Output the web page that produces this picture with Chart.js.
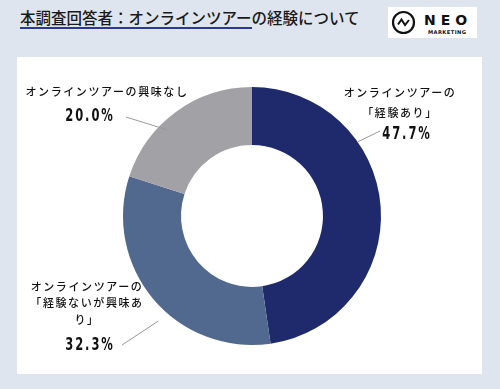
<!DOCTYPE html>
<html lang="ja">
<head>
    <meta charset="UTF-8">
    <title>本調査回答者：オンラインツアーの経験について</title>
    <style>
        body {
            margin: 0;
            width: 500px;
            height: 389px;
            background-color: #dfe5ee;
            font-family: "Noto Sans CJK JP", sans-serif;
            position: relative;
            overflow: hidden;
        }

        #title {
            position: absolute;
            left: 20px;
            top: 6px;
            font-size: 15.5px;
            font-weight: 500;
            color: #1a1a1a;
            white-space: nowrap;
        }

        #title-line {
            position: absolute;
            left: 20px;
            top: 27px;
            width: 232px;
            height: 1.5px;
            background-color: #2b3990;
        }

        #logo {
            position: absolute;
            left: 388px;
            top: 7px;
        }

        #panel {
            position: absolute;
            left: 17px;
            top: 57px;
            width: 465px;
            height: 317px;
            background-color: #fff;
        }

        #chart-box {
            position: absolute;
            left: 0;
            top: 0;
            width: 500px;
            height: 389px;
        }
    </style>
</head>
<body>
    <div id="title">本調査回答者：オンラインツアーの経験について</div>
    <div id="title-line"></div>
    <svg id="logo" width="89" height="31" viewBox="0 0 89 31">
        <rect width="89" height="31" fill="#fff"/>
        <circle cx="15.5" cy="15.5" r="10.5" fill="none" stroke="#111" stroke-width="2.2"/>
        <polyline points="10,17.5 13.5,12.5 17,18 21,13" fill="none" stroke="#111" stroke-width="2"/>
        <text x="36" y="18" font-family="DejaVu Sans" font-weight="bold" font-size="14" letter-spacing="5" fill="#111">NEO</text>
        <text x="40" y="26.5" font-family="DejaVu Sans" font-weight="bold" font-size="5.2" letter-spacing="0.4" fill="#111">MARKETING</text>
    </svg>
    <div id="panel"></div>
    <div id="chart-box">
        <canvas id="donut"></canvas>
    </div>

    <script src="https://cdn.jsdelivr.net/npm/chart.js"></script>

    <script>
        // data
        const categories = ['経験あり', '経験ないが興味あり', '興味なし'];
        const values = [47.7, 32.3, 20.0];
        const labelLines = [
            ['オンラインツアーの', '「経験あり」'],
            ['オンラインツアーの', '「経験ないが興味あ', 'り」'],
            ['オンラインツアーの興味なし']
        ];
        const colors = ['#1e2a6c', '#52698f', '#a2a2a6'];

        // where each label sits, relative to the donut centre
        const labelLayout = [
            { textX: 148, textY: [-123, -103], pctX: 155, pctY: -83, frac: 0.32, rf: 1.0, lineX: 128, lineY: -85 },
            { textX: -165, textY: [71, 87, 104], pctX: -162, pctY: 128, frac: 0.43, rf: 1.09, lineX: -130, lineY: 129 },
            { textX: -145, textY: [-124], pctX: -162, pctY: -101, frac: 0.38, rf: 0.94, lineX: -126, lineY: -99 }
        ];

        const calloutPlugin = {
            id: 'callouts',
            afterDatasetsDraw(chart) {
                const ctx = chart.ctx;
                const arcs = chart.getDatasetMeta(0).data;
                arcs.forEach((arc, i) => {
                    const lay = labelLayout[i];
                    const cx = arc.x, cy = arc.y;
                    const ang = arc.startAngle + lay.frac * (arc.endAngle - arc.startAngle);
                    const r = arc.outerRadius * lay.rf;

                    ctx.save();
                    ctx.strokeStyle = '#999';
                    ctx.lineWidth = 1;
                    ctx.beginPath();
                    ctx.moveTo(cx + Math.cos(ang) * r, cy + Math.sin(ang) * r);
                    ctx.lineTo(cx + lay.lineX, cy + lay.lineY);
                    ctx.stroke();

                    ctx.fillStyle = '#111';
                    ctx.textAlign = 'center';
                    ctx.textBaseline = 'middle';
                    ctx.font = '500 11px "Noto Sans CJK JP"';
                    ctx.letterSpacing = '1.6px';
                    labelLines[i].forEach((t, k) => {
                        ctx.fillText(t, cx + lay.textX, cy + lay.textY[k]);
                    });

                    // condensed bold percentage
                    ctx.translate(cx + lay.pctX, cy + lay.pctY);
                    ctx.scale(0.64, 1);
                    ctx.font = 'bold 18px "DejaVu Sans"';
                    ctx.letterSpacing = '3px';
                    ctx.fillText(values[i].toFixed(1) + '%', 0, 1);
                    ctx.restore();
                });
            }
        };

        const ctx = document.getElementById('donut').getContext('2d');
        new Chart(ctx, {
            type: 'doughnut',
            data: {
                labels: categories,
                datasets: [{
                    data: values,
                    backgroundColor: colors,
                    borderWidth: 0
                }]
            },
            options: {
                responsive: true,
                maintainAspectRatio: false,
                animation: false,
                cutout: '55%',
                layout: {
                    padding: { left: 123, right: 119, top: 87, bottom: 44 }
                },
                plugins: {
                    legend: { display: false },
                    tooltip: { enabled: false }
                }
            },
            plugins: [calloutPlugin]
        });
    </script>
</body>
</html>
